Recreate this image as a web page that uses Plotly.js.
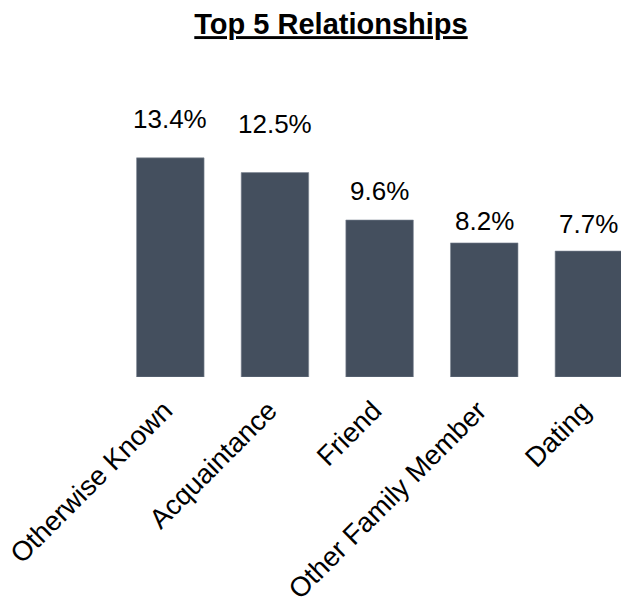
<!DOCTYPE html>
<html>
<head>
<meta charset="utf-8">
<script src="https://cdn.plot.ly/plotly-3.0.1.min.js"></script>
<style>html,body{margin:0;padding:0;background:#fff;}#chart{width:621px;height:598px;}</style>
</head>
<body>
<div id="chart"></div>
<script>
const categories = ["Otherwise Known", "Acquaintance", "Friend", "Other Family Member", "Dating"];
const values = [13.4, 12.5, 9.6, 8.2, 7.7];
const valueLabels = ["13.4%", "12.5%", "9.6%", "8.2%", "7.7%"];
// label offsets above the bar tops, in pixels (layout styling)
const labelGap = [22, 32, 12, 5, 10];

const FONT = "Liberation Sans, Arial, sans-serif";

const annotations = categories.map((c, i) => ({
  x: c, y: values[i], xref: 'x', yref: 'y',
  text: valueLabels[i], showarrow: false,
  yanchor: 'bottom', xanchor: 'center', yshift: labelGap[i],
  font: {family: FONT, size: 26, color: '#000'}
}));

const trace = {
  type: 'bar', x: categories, y: values,
  marker: {color: '#444F5E', line: {color: '#7d8794', width: 0.6}},
  hoverinfo: 'none'
};

const layout = {
  width: 621, height: 598,
  margin: {l: 118, r: 0, t: 99, b: 221},
  paper_bgcolor: '#fff', plot_bgcolor: '#fff',
  bargap: 0.355,
  showlegend: false,
  title: {
    text: '<b>Top 5 Relationships</b>',
    font: {family: FONT, size: 29, color: '#000', lineposition: 'under'},
    xref: 'container', yref: 'container',
    x: 331/621, xanchor: 'center', y: 1 - 24/598, yanchor: 'middle'
  },
  xaxis: {
    type: 'category', range: [-0.5, 4.307],
    tickangle: -45, showline: false, zeroline: false, showgrid: false,
    ticks: '', ticklabelstandoff: 11, ticklabelshift: -6,
    tickfont: {family: FONT, size: 27.5, color: '#000'}
  },
  yaxis: {
    range: [0, 17], visible: false, showgrid: false, zeroline: false
  },
  annotations: annotations
};

Plotly.newPlot('chart', [trace], layout, {staticPlot: true, displayModeBar: false});
</script>
</body>
</html>
